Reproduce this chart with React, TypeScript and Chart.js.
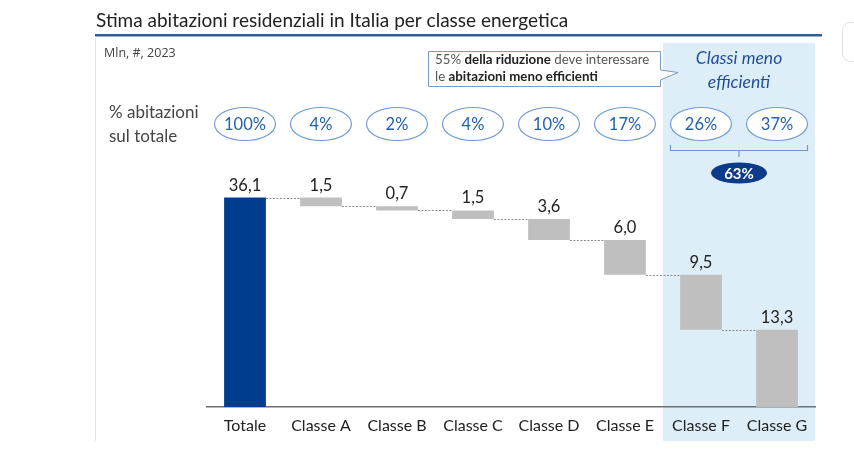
import React, { useEffect, useRef } from "react";
import { Chart, registerables } from "chart.js";

Chart.register(...registerables);

const title = "Stima abitazioni residenziali in Italia per classe energetica";
const subtitle = "Mln, #, 2023";
const categories = ["Totale", "Classe A", "Classe B", "Classe C", "Classe D", "Classe E", "Classe F", "Classe G"];
const values = [36.1, 1.5, 0.7, 1.5, 3.6, 6.0, 9.5, 13.3];
const valueLabels = ["36,1", "1,5", "0,7", "1,5", "3,6", "6,0", "9,5", "13,3"];
const shareLabels = ["100%", "4%", "2%", "4%", "10%", "17%", "26%", "37%"];
const groupShare = "63%";
const groupTitle = ["Classi meno", "efficienti"];
const rowLabel = ["% abitazioni", "sul totale"];
const noteLine1 = [
  { t: "55% ", b: false },
  { t: "della riduzione", b: true },
  { t: " deve interessare", b: false },
];
const noteLine2 = [
  { t: "le ", b: false },
  { t: "abitazioni meno efficienti", b: true },
];
const highlightFrom = 6; // Classe F

const FONT = "Lato, 'Open Sans', sans-serif";

// floating ranges for waterfall
const ranges: [number, number][] = (() => {
  const out: [number, number][] = [];
  let run = values[0];
  out.push([0, values[0]]);
  for (let i = 1; i < values.length; i++) {
    out.push([run - values[i], run]);
    run -= values[i];
  }
  return out;
})();

const W = 854;
const H = 458;

function ellipse(ctx: CanvasRenderingContext2D, cx: number, cy: number, rx: number, ry: number) {
  ctx.beginPath();
  ctx.ellipse(cx, cy, rx, ry, 0, 0, Math.PI * 2);
}

const decorPlugin = {
  id: "decor",
  beforeDraw(chart: any) {
    const ctx: CanvasRenderingContext2D = chart.ctx;
    const x = chart.scales.x;
    const step = x.getPixelForValue(1) - x.getPixelForValue(0);
    ctx.save();
    ctx.fillStyle = "#ffffff";
    ctx.fillRect(0, 0, W, H);

    // shaded region
    const sx0 = x.getPixelForValue(highlightFrom) - step / 2;
    const sx1 = x.getPixelForValue(categories.length - 1) + step / 2;
    ctx.fillStyle = "#deeef8";
    ctx.fillRect(sx0, 43, sx1 - sx0, 398);

    // left panel line
    ctx.strokeStyle = "#e6e6e6";
    ctx.lineWidth = 1;
    ctx.beginPath();
    ctx.moveTo(95.5, 38);
    ctx.lineTo(95.5, 441);
    ctx.stroke();

    // right artifact
    ctx.strokeStyle = "#e2e2e2";
    ctx.beginPath();
    ctx.moveTo(862, 22.5);
    ctx.lineTo(850, 22.5);
    ctx.arcTo(842.5, 22.5, 842.5, 30, 8);
    ctx.lineTo(842.5, 54);
    ctx.arcTo(842.5, 61.5, 850, 61.5, 8);
    ctx.lineTo(862, 61.5);
    ctx.stroke();

    // title
    ctx.fillStyle = "#222222";
    ctx.font = `19px ${FONT}`;
    ctx.textAlign = "left";
    ctx.textBaseline = "alphabetic";
    ctx.fillText(title, 96, 27);
    ctx.fillStyle = "#2d5f9e";
    ctx.fillRect(95, 34, 727, 2.5);

    // subtitle
    ctx.fillStyle = "#444444";
    ctx.font = `12.5px 'Open Sans', sans-serif`;
    ctx.fillText(subtitle, 104, 57);

    // row label
    ctx.font = `17px ${FONT}`;
    ctx.fillStyle = "#444444";
    ctx.fillText(rowLabel[0], 109, 118);
    ctx.fillText(rowLabel[1], 109, 142);

    // note box with pointer
    ctx.beginPath();
    ctx.moveTo(428.5, 51.5);
    ctx.lineTo(660.5, 51.5);
    ctx.lineTo(660.5, 70);
    ctx.lineTo(678, 72.5);
    ctx.lineTo(660.5, 80);
    ctx.lineTo(660.5, 86.5);
    ctx.lineTo(428.5, 86.5);
    ctx.closePath();
    ctx.fillStyle = "#ffffff";
    ctx.fill();
    ctx.strokeStyle = "#7a9ccc";
    ctx.lineWidth = 1;
    ctx.stroke();
    const drawRich = (parts: { t: string; b: boolean }[], px: number, py: number) => {
      let cx = px;
      for (const p of parts) {
        ctx.font = `${p.b ? "bold " : ""}13.3px ${FONT}`;
        ctx.fillStyle = p.b ? "#222222" : "#555555";
        ctx.fillText(p.t, cx, py);
        cx += ctx.measureText(p.t).width;
      }
    };
    drawRich(noteLine1, 435, 64);
    drawRich(noteLine2, 435, 81);

    // group title
    const gcx = (x.getPixelForValue(highlightFrom) + x.getPixelForValue(categories.length - 1)) / 2;
    ctx.font = `italic 17.5px ${FONT}`;
    ctx.fillStyle = "#1f4e9a";
    ctx.textAlign = "center";
    ctx.fillText(groupTitle[0], gcx, 64);
    ctx.fillText(groupTitle[1], gcx, 88);

    // share ovals
    ctx.textBaseline = "middle";
    for (let i = 0; i < categories.length; i++) {
      const cx = x.getPixelForValue(i);
      ellipse(ctx, cx, 124, 30.5, 16.5);
      ctx.fillStyle = "#ffffff";
      ctx.fill();
      ctx.strokeStyle = "#6e9bd3";
      ctx.lineWidth = 1.2;
      ctx.stroke();
      ctx.fillStyle = "#2361ad";
      ctx.font = `16.5px ${FONT}`;
      ctx.fillText(shareLabels[i], cx, 125);
    }

    // bracket
    const bl = x.getPixelForValue(highlightFrom) - 30.5;
    const br = x.getPixelForValue(categories.length - 1) + 30.5;
    ctx.strokeStyle = "#6e9bd3";
    ctx.lineWidth = 1.2;
    ctx.beginPath();
    ctx.moveTo(bl, 145);
    ctx.lineTo(bl, 150.5);
    ctx.lineTo(br, 150.5);
    ctx.lineTo(br, 145);
    ctx.moveTo(gcx, 150.5);
    ctx.lineTo(gcx, 157);
    ctx.stroke();

    ellipse(ctx, gcx, 173, 28, 10.5);
    ctx.fillStyle = "#0b3b8a";
    ctx.fill();
    ctx.fillStyle = "#ffffff";
    ctx.font = `bold 15px ${FONT}`;
    ctx.fillText(groupShare, gcx, 174);

    ctx.restore();
  },
  afterDatasetsDraw(chart: any) {
    const ctx: CanvasRenderingContext2D = chart.ctx;
    const y = chart.scales.y;
    const meta = chart.getDatasetMeta(0);
    ctx.save();
    // connectors
    ctx.strokeStyle = "#8c8c8c";
    ctx.lineWidth = 1;
    ctx.setLineDash([2, 1.5]);
    for (let i = 0; i < meta.data.length - 1; i++) {
      const a = meta.data[i];
      const b = meta.data[i + 1];
      const level = i === 0 ? ranges[0][1] : ranges[i][0];
      const py = Math.round(y.getPixelForValue(level)) + 0.5;
      ctx.beginPath();
      ctx.moveTo(a.x + a.width / 2, py);
      ctx.lineTo(b.x - b.width / 2, py);
      ctx.stroke();
    }
    ctx.setLineDash([]);
    // value labels
    ctx.fillStyle = "#222222";
    ctx.font = `16.5px ${FONT}`;
    ctx.textAlign = "center";
    ctx.textBaseline = "alphabetic";
    for (let i = 0; i < meta.data.length; i++) {
      const el = meta.data[i];
      const top = y.getPixelForValue(ranges[i][1]);
      ctx.fillText(valueLabels[i], el.x, top - 7);
    }
    ctx.restore();
  },
};

export default function App() {
  const ref = useRef<HTMLCanvasElement>(null);
  useEffect(() => {
    if (!ref.current) return;
    const chart = new Chart(ref.current, {
      type: "bar",
      data: {
        labels: categories,
        datasets: [
          {
            data: ranges as any,
            backgroundColor: categories.map((_, i) => (i === 0 ? "#003d8f" : "#bfbfbf")),
            borderWidth: 0,
            barPercentage: 0.55,
            categoryPercentage: 1,
          },
        ],
      },
      options: {
        responsive: false,
        animation: false,
        devicePixelRatio: 1,
        layout: { padding: { left: 207, right: 39, top: 175, bottom: 0 } },
        plugins: { legend: { display: false }, tooltip: { enabled: false } },
        scales: {
          y: { display: false, min: 0, max: 40 },
          x: {
            grid: { display: false },
            border: { display: true, color: "#6f6f6f", width: 1.5 },
            ticks: {
              color: "#222222",
              font: { family: FONT, size: 16 },
              padding: 1,
              autoSkip: false,
              maxRotation: 0,
            },
            afterFit: (s: any) => {
              s.height = 51;
            },
          },
        },
      },
      plugins: [decorPlugin],
    });
    return () => chart.destroy();
  }, []);
  return (
    <div style={{ position: "fixed", left: 0, top: 0, width: W, height: H, background: "#fff" }}>
      <canvas ref={ref} width={W} height={H} style={{ width: W, height: H, display: "block" }} />
    </div>
  );
}
